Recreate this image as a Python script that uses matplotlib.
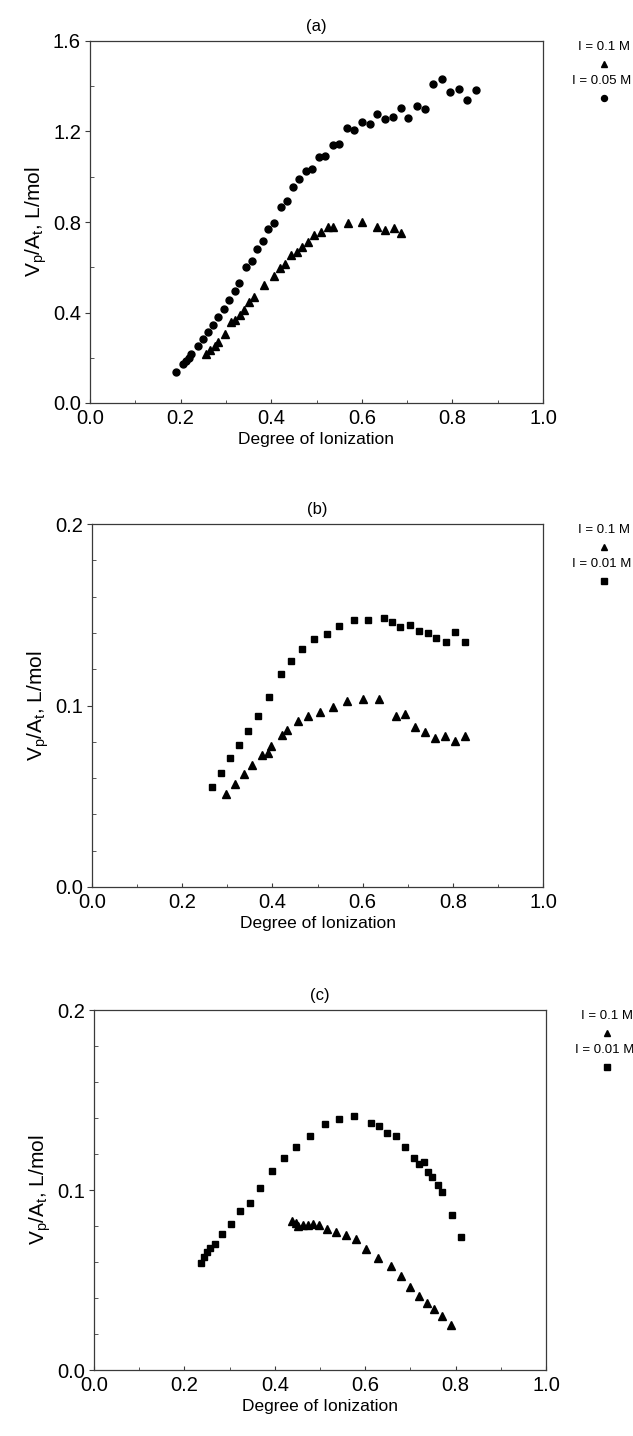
"""Vp/At vs degree of ionization, three panels (a), (b), (c)."""
import numpy as np
import matplotlib
matplotlib.use("Agg")
import matplotlib.pyplot as plt
from matplotlib.ticker import MultipleLocator, FormatStrFormatter

plt.rcParams["font.family"] = ["Liberation Sans", "DejaVu Sans"]
plt.rcParams["mathtext.fontset"] = "custom"
plt.rcParams["mathtext.rm"] = "Liberation Sans"
plt.rcParams["mathtext.it"] = "Liberation Sans"

# ---------- data ----------
# (a)  I = 0.05 M (circles), I = 0.1 M (triangles)
a_x_005 = [0.189, 0.206, 0.212, 0.218, 0.224, 0.238, 0.249, 0.260, 0.272, 0.283,
           0.295, 0.307, 0.319, 0.330, 0.345, 0.357, 0.369, 0.383, 0.394, 0.406,
           0.421, 0.434, 0.448, 0.462, 0.477, 0.489, 0.505, 0.519, 0.536, 0.550,
           0.567, 0.583, 0.600, 0.617, 0.634, 0.651, 0.668, 0.687, 0.703, 0.721,
           0.740, 0.758, 0.777, 0.795, 0.814, 0.833, 0.851]
a_y_005 = [0.138, 0.173, 0.184, 0.199, 0.217, 0.251, 0.283, 0.313, 0.346, 0.379,
           0.417, 0.454, 0.496, 0.529, 0.599, 0.629, 0.682, 0.714, 0.770, 0.795,
           0.866, 0.891, 0.954, 0.989, 1.026, 1.036, 1.088, 1.091, 1.139, 1.144,
           1.214, 1.206, 1.244, 1.233, 1.276, 1.256, 1.263, 1.303, 1.261, 1.313,
           1.298, 1.410, 1.431, 1.376, 1.388, 1.339, 1.383]
a_x_01 = [0.256, 0.265, 0.276, 0.283, 0.298, 0.311, 0.320, 0.331, 0.341, 0.352,
          0.363, 0.385, 0.406, 0.419, 0.430, 0.444, 0.456, 0.469, 0.482, 0.495,
          0.509, 0.525, 0.537, 0.569, 0.601, 0.633, 0.651, 0.670, 0.687]
a_y_01 = [0.218, 0.233, 0.254, 0.270, 0.305, 0.358, 0.365, 0.391, 0.413, 0.447,
          0.469, 0.523, 0.563, 0.597, 0.614, 0.652, 0.667, 0.688, 0.710, 0.741,
          0.754, 0.780, 0.776, 0.794, 0.798, 0.778, 0.763, 0.773, 0.751]

# (b)  I = 0.01 M (squares), I = 0.1 M (triangles)
b_x_001 = [0.265, 0.286, 0.306, 0.326, 0.347, 0.369, 0.392, 0.418, 0.441, 0.466,
           0.493, 0.520, 0.548, 0.580, 0.612, 0.647, 0.666, 0.684, 0.704, 0.724,
           0.744, 0.763, 0.784, 0.804, 0.826]
b_y_001 = [0.055, 0.063, 0.0709, 0.0784, 0.0860, 0.0944, 0.1045, 0.1172, 0.1245, 0.1313,
           0.1366, 0.1396, 0.1438, 0.1469, 0.1473, 0.1480, 0.1462, 0.1434, 0.1444, 0.1410,
           0.1398, 0.1372, 0.1350, 0.1403, 0.1348]
b_x_01 = [0.298, 0.317, 0.336, 0.355, 0.376, 0.391, 0.398, 0.421, 0.432, 0.456,
          0.480, 0.506, 0.535, 0.566, 0.600, 0.636, 0.673, 0.695, 0.716, 0.738,
          0.760, 0.783, 0.805, 0.828]
b_y_01 = [0.051, 0.0567, 0.0623, 0.0670, 0.0727, 0.0740, 0.0777, 0.0837, 0.0863, 0.0916,
          0.0942, 0.0966, 0.0993, 0.1026, 0.1034, 0.1036, 0.0944, 0.0955, 0.0880, 0.0856,
          0.0823, 0.0834, 0.0804, 0.0832]

# (c)  I = 0.01 M (squares), I = 0.1 M (triangles)
c_x_001 = [0.236, 0.243, 0.250, 0.257, 0.268, 0.284, 0.302, 0.323, 0.345, 0.368,
           0.393, 0.420, 0.448, 0.478, 0.510, 0.541, 0.576, 0.612, 0.630, 0.648,
           0.668, 0.688, 0.707, 0.718, 0.729, 0.738, 0.748, 0.760, 0.770, 0.791,
           0.811]
c_y_001 = [0.0594, 0.0628, 0.0653, 0.0677, 0.0701, 0.0758, 0.0809, 0.0881, 0.0930, 0.1012,
           0.1105, 0.1178, 0.1241, 0.1300, 0.1365, 0.1394, 0.1413, 0.1370, 0.1354, 0.1317,
           0.1298, 0.1241, 0.1178, 0.1143, 0.1154, 0.1098, 0.1074, 0.1028, 0.0991, 0.0863,
           0.0739]
c_x_01 = [0.438, 0.447, 0.451, 0.462, 0.473, 0.484, 0.498, 0.516, 0.535, 0.557,
          0.579, 0.602, 0.629, 0.657, 0.680, 0.700, 0.720, 0.736, 0.753, 0.770,
          0.789]
c_y_01 = [0.0826, 0.0815, 0.0800, 0.0808, 0.0803, 0.0810, 0.0808, 0.0786, 0.0765, 0.0752,
          0.0730, 0.0675, 0.0624, 0.0578, 0.052, 0.046, 0.041, 0.037, 0.034, 0.030,
          0.025]

titles = ["(a)", "(b)", "(c)"]
legend_top = ["I = 0.1 M", "I = 0.1 M", "I = 0.1 M"]
legend_bot = ["I = 0.05 M", "I = 0.01 M", "I = 0.01 M"]
y_max = [1.6, 0.2, 0.2]
y_major = [0.4, 0.1, 0.1]
y_minor = [0.2, 0.02, 0.02]

panels = [
    (a_x_01, a_y_01, a_x_005, a_y_005, "o"),
    (b_x_01, b_y_01, b_x_001, b_y_001, "s"),
    (c_x_01, c_y_01, c_x_001, c_y_001, "s"),
]

# axes boxes in figure fraction (left, bottom, width, height)
W, H = 633, 1436
boxes = [
    (90 / W, 1 - 403 / H, 453 / W, 362 / H),
    (92 / W, 1 - 887 / H, 451 / W, 363 / H),
    (94 / W, 1 - 1370 / H, 452 / W, 360 / H),
]

fig = plt.figure(figsize=(W / 100, H / 100), dpi=100)

spine_col = "#3a3a3a"
for i, (tx, ty, ox, oy, omark) in enumerate(panels):
    ax = fig.add_axes(boxes[i])

    ax.plot(tx, ty, linestyle="none", marker="^", ms=6, color="black", mec="black")
    oms = 5 if omark == "o" else 4.6
    ax.plot(ox, oy, linestyle="none", marker=omark, ms=oms, color="black", mec="black")

    ax.set_xlim(0, 1.0)
    ax.set_ylim(0, y_max[i])
    ax.xaxis.set_major_locator(MultipleLocator(0.2))
    ax.xaxis.set_minor_locator(MultipleLocator(0.1))
    ax.yaxis.set_major_locator(MultipleLocator(y_major[i]))
    ax.yaxis.set_minor_locator(MultipleLocator(y_minor[i]))
    ax.xaxis.set_major_formatter(FormatStrFormatter("%.1f"))
    ax.yaxis.set_major_formatter(FormatStrFormatter("%.1f"))

    ax.tick_params(axis="y", which="major", direction="out", length=3.5, width=0.8,
                   pad=3, labelsize=14.5, color=spine_col)
    ax.tick_params(axis="y", which="minor", direction="in", length=3, width=0.6,
                   color=spine_col)
    ax.tick_params(axis="x", which="major", direction="in", length=3, width=0.8,
                   pad=4, labelsize=14.5, color=spine_col)
    ax.tick_params(axis="x", which="minor", direction="in", length=2.5, width=0.6,
                   color=spine_col)
    for s in ax.spines.values():
        s.set_linewidth(0.9)
        s.set_color(spine_col)

    ax.set_xlabel("Degree of Ionization", fontsize=12.5, labelpad=3)
    ax.set_ylabel(r"V$_\mathregular{p}$/A$_\mathregular{t}$, L/mol", fontsize=15,
                  labelpad=3)
    ax.set_title(titles[i], fontsize=12, pad=7)

    # key at the right of the frame: text over its marker
    kx = 1.135
    ax.text(kx, 0.983, legend_top[i], transform=ax.transAxes, ha="center",
            va="center", fontsize=9.5)
    ax.plot([kx], [0.937], transform=ax.transAxes, marker="^", ms=5,
            color="black", linestyle="none", clip_on=False)
    ax.text(kx - 0.005, 0.890, legend_bot[i], transform=ax.transAxes, ha="center",
            va="center", fontsize=9.5)
    ax.plot([kx], [0.843], transform=ax.transAxes, marker=omark, ms=4.3,
            color="black", linestyle="none", clip_on=False)

fig.savefig("out.png", dpi=100)
